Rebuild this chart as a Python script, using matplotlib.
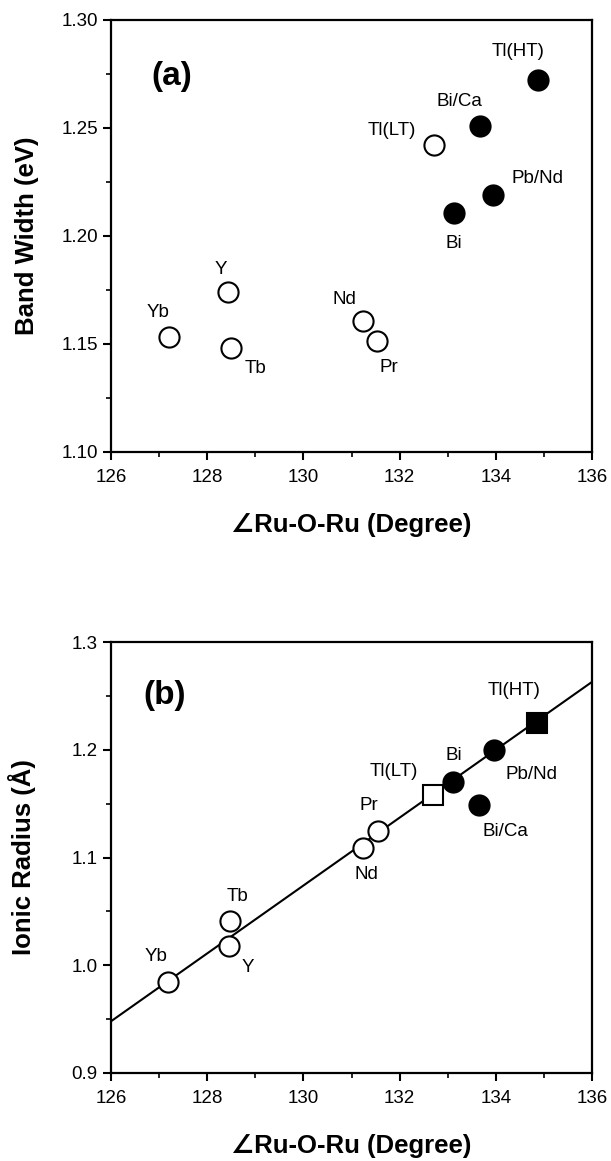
import matplotlib
matplotlib.use("Agg")
import matplotlib.pyplot as plt
from matplotlib.ticker import MultipleLocator, FormatStrFormatter
import numpy as np

plt.rcParams['font.family'] = ['Liberation Sans', 'DejaVu Sans']

# ---------------- Panel (a): band width ----------------
a_open_names = ["Yb", "Y", "Tb", "Nd", "Pr", "Tl(LT)"]
a_open_x = [127.21, 128.44, 128.49, 131.23, 131.53, 132.72]
a_open_y = [1.1534, 1.1742, 1.1483, 1.1605, 1.1515, 1.2423]

a_fill_names = ["Bi", "Bi/Ca", "Pb/Nd", "Tl(HT)"]
a_fill_x = [133.13, 133.67, 133.95, 134.87]
a_fill_y = [1.2108, 1.2508, 1.2192, 1.2723]

a_label_text = ["Yb", "Y", "Tb", "Nd", "Pr", "Tl(LT)", "Bi", "Bi/Ca", "Pb/Nd", "Tl(HT)"]
a_label_x = [126.98, 128.28, 129.00, 130.86, 131.78, 131.83, 133.13, 133.25, 134.87, 134.46]
a_label_y = [1.1646, 1.1846, 1.1385, 1.1708, 1.1392, 1.2489, 1.1965, 1.2623, 1.2266, 1.2854]

# ---------------- Panel (b): ionic radius ----------------
b_circ_open_names = ["Yb", "Y", "Tb", "Nd", "Pr"]
b_circ_open_x = [127.18, 128.46, 128.47, 131.24, 131.56]
b_circ_open_y = [0.9845, 1.018, 1.041, 1.109, 1.125]

b_sq_open_x = [132.70]
b_sq_open_y = [1.158]

b_circ_fill_names = ["Bi", "Bi/Ca", "Pb/Nd"]
b_circ_fill_x = [133.11, 133.66, 133.96]
b_circ_fill_y = [1.170, 1.149, 1.200]

b_sq_fill_x = [134.86]
b_sq_fill_y = [1.225]

b_line_x = [126.0, 136.0]
b_line_y = [0.948, 1.263]

b_label_text = ["Yb", "Y", "Tb", "Nd", "Pr", "Tl(LT)", "Bi", "Bi/Ca", "Pb/Nd", "Tl(HT)"]
b_label_x = [126.93, 128.85, 128.62, 131.32, 131.36, 131.88, 133.12, 134.20, 134.74, 134.39]
b_label_y = [1.008, 0.998, 1.064, 1.084, 1.148, 1.180, 1.195, 1.124, 1.177, 1.255]

x_ticks = [126, 128, 130, 132, 134, 136]

fig = plt.figure(figsize=(6.11, 11.61), dpi=100)
ax1 = fig.add_axes([0.1817, 0.6107, 0.7872, 0.3721])
ax2 = fig.add_axes([0.1817, 0.0758, 0.7872, 0.3712])

ms = 14.5
mew = 1.5
lab_fs = 13.5
tick_fs = 13.5
axlab_fs = 18.5


def style(ax):
    for s in ax.spines.values():
        s.set_linewidth(1.6)
    ax.tick_params(axis='both', which='major', direction='out', length=6, width=1.5,
                   labelsize=tick_fs, top=False, right=False)
    ax.tick_params(axis='x', which='major', pad=6)
    ax.tick_params(axis='both', which='minor', direction='out', length=3.5, width=1.2,
                   top=False, right=False)
    ax.set_xlim(126, 136)
    ax.set_xticks(x_ticks)
    ax.xaxis.set_minor_locator(MultipleLocator(1))
    ax.set_xlabel("∠Ru-O-Ru (Degree)", fontsize=axlab_fs, fontweight='bold', labelpad=20)


# Panel (a)
ax1.plot(a_open_x, a_open_y, 'o', ms=ms, mfc='white', mec='black', mew=mew, ls='none')
ax1.plot(a_fill_x, a_fill_y, 'o', ms=ms, mfc='black', mec='black', mew=mew, ls='none')
for t, x, y in zip(a_label_text, a_label_x, a_label_y):
    ax1.text(x, y, t, fontsize=lab_fs, ha='center', va='center')
ax1.text(127.26, 1.2738, "(a)", fontsize=24, fontweight='bold', ha='center', va='center')
ax1.set_ylim(1.10, 1.30)
ax1.yaxis.set_major_locator(MultipleLocator(0.05))
ax1.yaxis.set_minor_locator(MultipleLocator(0.025))
ax1.yaxis.set_major_formatter(FormatStrFormatter('%.2f'))
style(ax1)
ax1.set_ylabel("Band Width (eV)", fontsize=axlab_fs, fontweight='bold', labelpad=16)

# Panel (b)
ax2.plot(b_line_x, b_line_y, '-', color='black', lw=1.5, zorder=1)
ax2.plot(b_circ_open_x, b_circ_open_y, 'o', ms=ms, mfc='white', mec='black', mew=mew, ls='none', zorder=3)
ax2.plot(b_sq_open_x, b_sq_open_y, 's', ms=ms - 0.5, mfc='white', mec='black', mew=mew, ls='none', zorder=3)
ax2.plot(b_circ_fill_x, b_circ_fill_y, 'o', ms=ms, mfc='black', mec='black', mew=mew, ls='none', zorder=3)
ax2.plot(b_sq_fill_x, b_sq_fill_y, 's', ms=ms - 0.5, mfc='black', mec='black', mew=mew, ls='none', zorder=3)
for t, x, y in zip(b_label_text, b_label_x, b_label_y):
    ax2.text(x, y, t, fontsize=lab_fs, ha='center', va='center')
ax2.text(127.12, 1.25, "(b)", fontsize=24, fontweight='bold', ha='center', va='center')
ax2.set_ylim(0.9, 1.3)
ax2.yaxis.set_major_locator(MultipleLocator(0.1))
ax2.yaxis.set_minor_locator(MultipleLocator(0.05))
ax2.yaxis.set_major_formatter(FormatStrFormatter('%.1f'))
style(ax2)
ax2.set_ylabel("Ionic Radius (Å)", fontsize=axlab_fs, fontweight='bold', labelpad=26)

fig.savefig("out.png", dpi=100)
